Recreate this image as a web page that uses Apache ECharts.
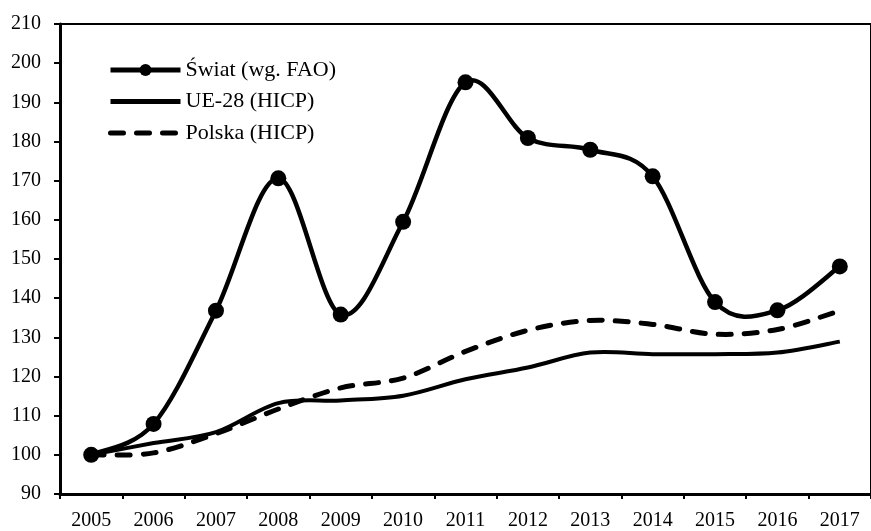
<!DOCTYPE html>
<html>
<head>
<meta charset="utf-8">
<script src="https://cdn.jsdelivr.net/npm/echarts@6/dist/echarts.min.js"></script>
<style>
html,body{margin:0;padding:0;background:#fff;}
#chart{width:871px;height:531px;}
</style>
</head>
<body>
<div id="chart"></div>
<script>
const categories = ['2005','2006','2007','2008','2009','2010','2011','2012','2013','2014','2015','2016','2017'];
const swiat = [100, 107.9, 136.8, 170.6, 135.8, 159.5, 195.1, 180.9, 177.9, 171.1, 139.0, 136.9, 148.1];
const ue28 = [100, 103.0, 105.8, 113.2, 113.9, 115.1, 119.3, 122.3, 126.1, 125.7, 125.7, 126.1, 128.9];
const polska = [100, 100.5, 105.4, 111.7, 117.1, 119.6, 126.4, 131.8, 134.3, 133.3, 130.8, 132.0, 136.8];
const yTicks = {min: 90, max: 210, interval: 10};
const names = ['Świat (wg. FAO)', 'UE-28 (HICP)', 'Polska (HICP)'];

const FONT = '"Liberation Serif", "Times New Roman", serif';

// Excel-like smoothed curve (Catmull-Rom, tension 1/6) through points mapped by the axes
function smoothCurve(values, style) {
  return {
    type: 'custom', coordinateSystem: 'cartesian2d', data: [0], silent: true, z: 2,
    renderItem: function (params, api) {
      const p = values.map((v, i) => api.coord([i, v]));
      const n = p.length;
      let d = 'M' + p[0][0] + ' ' + p[0][1];
      for (let i = 0; i < n - 1; i++) {
        const p0 = p[Math.max(i - 1, 0)], p1 = p[i], p2 = p[i + 1], p3 = p[Math.min(i + 2, n - 1)];
        const c1x = p1[0] + (p2[0] - p0[0]) / 6, c1y = p1[1] + (p2[1] - p0[1]) / 6;
        const c2x = p2[0] - (p3[0] - p1[0]) / 6, c2y = p2[1] - (p3[1] - p1[1]) / 6;
        d += ' C' + c1x + ' ' + c1y + ' ' + c2x + ' ' + c2y + ' ' + p2[0] + ' ' + p2[1];
      }
      return {type: 'path', shape: {pathData: d}, style: Object.assign({fill: null, stroke: '#000'}, style)};
    }
  };
}

const chart = echarts.init(document.getElementById('chart'));
chart.setOption({
  backgroundColor: '#fff',
  animation: false,
  grid: {left: 60, top: 24, width: 820, height: 473.5, show: true, borderColor: '#000', borderWidth: 2, backgroundColor: 'transparent'},
  legend: {
    orient: 'vertical', left: 103, top: 54,
    itemWidth: 70, itemHeight: 15, itemGap: 9.5,
    textStyle: {fontFamily: FONT, fontSize: 22, color: '#000', lineHeight: 22},
    lineStyle: {width: 5, color: '#000'},
    data: [
      {name: names[0]},
      {name: names[1], itemStyle: {opacity: 0}},
      {name: names[2], itemStyle: {opacity: 0}, lineStyle: {type: [13, 13], cap: 'round'}}
    ]
  },
  xAxis: {
    type: 'category', data: categories, boundaryGap: true,
    axisLine: {lineStyle: {color: '#000', width: 3}},
    axisTick: {show: true, length: 5, lineStyle: {color: '#000', width: 2}},
    axisLabel: {color: '#000', fontFamily: FONT, fontSize: 20, margin: 17, interval: 0},
    splitLine: {show: false}
  },
  yAxis: {
    type: 'value', min: yTicks.min, max: yTicks.max, interval: yTicks.interval,
    axisLine: {show: true, lineStyle: {color: '#000', width: 3}},
    axisTick: {show: true, length: 6, lineStyle: {color: '#000', width: 2}},
    axisLabel: {color: '#000', fontFamily: FONT, fontSize: 20, margin: 19},
    splitLine: {show: false}
  },
  series: [
    {name: names[0], type: 'line', data: swiat, symbol: 'circle', symbolSize: 16,
     itemStyle: {color: '#000'}, lineStyle: {color: '#000', width: 0}, z: 5},
    {name: names[1], type: 'line', data: ue28, symbol: 'none',
     itemStyle: {color: '#000'}, lineStyle: {color: '#000', width: 0}},
    {name: names[2], type: 'line', data: polska, symbol: 'none',
     itemStyle: {color: '#000'}, lineStyle: {color: '#000', width: 0, type: [13, 13], cap: 'round'}},
    smoothCurve(swiat, {lineWidth: 4.5}),
    smoothCurve(ue28, {lineWidth: 4}),
    smoothCurve(polska, {lineWidth: 5, lineDash: [13, 13], lineCap: 'round'})
  ]
});
</script>
</body>
</html>
